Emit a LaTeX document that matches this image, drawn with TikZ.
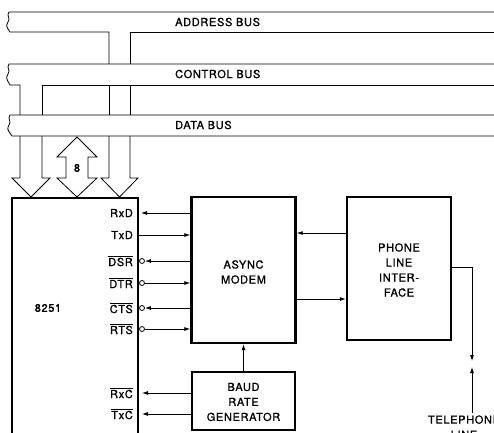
\documentclass[tikz,border=0pt]{standalone}
\usepackage{fontspec}
\setmainfont{TeX Gyre Heros}[LetterSpace=6,FakeBold=1.2]
\usetikzlibrary{arrows.meta}

\begin{document}
\begin{tikzpicture}[x=1pt,y=-1pt,
  blk/.style={draw,line width=2.4pt,inner sep=0pt},
  lbl/.style={font=\fontsize{11}{15}\selectfont,align=center,inner sep=1pt},
  sig/.style={line width=0.8pt,-{Latex[length=6pt,width=4pt]}},
  bub/.style={draw,circle,line width=0.8pt,minimum size=5pt,inner sep=0pt},
  bus/.style={line width=0.8pt}]
\useasboundingbox (0,0) rectangle (494,432);

% buses
\draw[bus] (494,12) -- (9,12) .. controls (6,16) and (11,18) .. (8,22) .. controls (6,26) .. (10,32) -- (109,32) -- (109,64);
\draw[bus] (130,64) -- (130,32) -- (494,32);
\draw[bus] (494,64) -- (9,64) .. controls (6,68) and (11,70) .. (8,74) .. controls (6,78) .. (10,85) -- (20,85) -- (20,115);
\draw[bus] (42,115) -- (42,85) -- (494,85);
\draw[bus] (109,85) -- (109,115);
\draw[bus] (130,85) -- (130,115);
\draw[bus] (494,115) -- (10,115) .. controls (7,119) and (12,121) .. (9,125) .. controls (7,129) .. (12,136) -- (494,136);
\node[lbl,anchor=west] (abus) at (174,22) {ADDRESS BUS};
\node[lbl,anchor=west] (cbus) at (174,74) {CONTROL BUS};
\node[lbl,anchor=west] (dbus) at (174,125) {DATA BUS};

% wide arrows into the 8251
\draw[bus] (20,136) -- (20,178) -- (12,178) -- (31,197) -- (50,178) -- (42,178) -- (42,136);
\draw[bus] (109,136) -- (109,178) -- (101,178) -- (119.5,197) -- (138,178) -- (130,178) -- (130,136);
\draw[bus] (77,137) -- (97,157) -- (88,157) -- (88,178) -- (97,178) -- (77,197) -- (57,178) -- (66,178) -- (66,157) -- (57,157) -- cycle;
\node[lbl] (width) at (77,168) {8};

% blocks
\node[blk,minimum width=126,minimum height=262] (usart) at (75,329) {};
\node[lbl] (usartname) at (48,308) {8251};
\node[blk,minimum width=104,minimum height=146] (modem) at (243.5,270) {};
\node[lbl] (modemname) at (243.5,272) {ASYNC\\MODEM};
\node[blk,minimum width=104,minimum height=143] (phone) at (399,268.5) {};
\node[lbl] (phonename) at (399,270) {PHONE\\LINE\\INTER-\\FACE};
\node[blk,minimum width=103,minimum height=58] (baud) at (243.5,401) {};
\node[lbl] (baudname) at (243.5,402) {BAUD\\RATE\\GENERATOR};

% pins of the 8251
\node[lbl,anchor=east] (rxdl) at (134,213) {RxD};
\node[lbl,anchor=east] (txdl) at (134,235) {TxD};
\node[lbl,anchor=east] (dsrl) at (134,261) {$\overline{\mbox{DSR}}$};
\node[lbl,anchor=east] (dtrl) at (134,283) {$\overline{\mbox{DTR}}$};
\node[lbl,anchor=east] (ctsl) at (134,308) {$\overline{\mbox{CTS}}$};
\node[lbl,anchor=east] (rtsl) at (134,329) {$\overline{\mbox{RTS}}$};
\node[lbl,anchor=east] (rxcl) at (134,393) {$\overline{\mbox{RxC}}$};
\node[lbl,anchor=east] (txcl) at (134,414) {$\overline{\mbox{TxC}}$};
\coordinate (rxd) at (141,213);
\coordinate (txd) at (139,235);
\node[bub] (dsr) at (142,261) {};
\node[bub] (dtr) at (142,283) {};
\node[bub] (cts) at (142,308) {};
\node[bub] (rts) at (142,329) {};
\coordinate (rxc) at (142,393);
\coordinate (txc) at (142,414);

% signals
\draw[sig] (modem.west |- rxd) -- (rxd);
\draw[sig] (txd) -- (modem.west |- txd);
\draw[sig] (modem.west |- dsr) -- (dsr);
\draw[sig] (dtr) -- (modem.west |- dtr);
\draw[sig] (modem.west |- cts) -- (cts);
\draw[sig] (rts) -- (modem.west |- rts);
\draw[sig] (baud.west |- rxc) -- (rxc);
\draw[sig] (baud.west |- txc) -- (txc);
\draw[sig] (baud.north) -- (modem.south);
\draw[sig] ([yshift=35.5pt]phone.west) -- ([yshift=35.5pt]phone.west -| modem.east);
\draw[sig] ([yshift=-30.5pt]phone.west -| modem.east) -- ([yshift=-30.5pt]phone.west);

% telephone line
\coordinate (tla) at (472,361);
\coordinate (tlb) at (472,367);
\node[lbl,inner sep=2pt] (tel) at (464,427) {TELEPHONE\\LINE};
\draw[sig] ([yshift=1.5pt]phone.east) -| (tla);
\draw[sig] (tel.north -| tlb) -- (tlb);
\end{tikzpicture}
\end{document}
